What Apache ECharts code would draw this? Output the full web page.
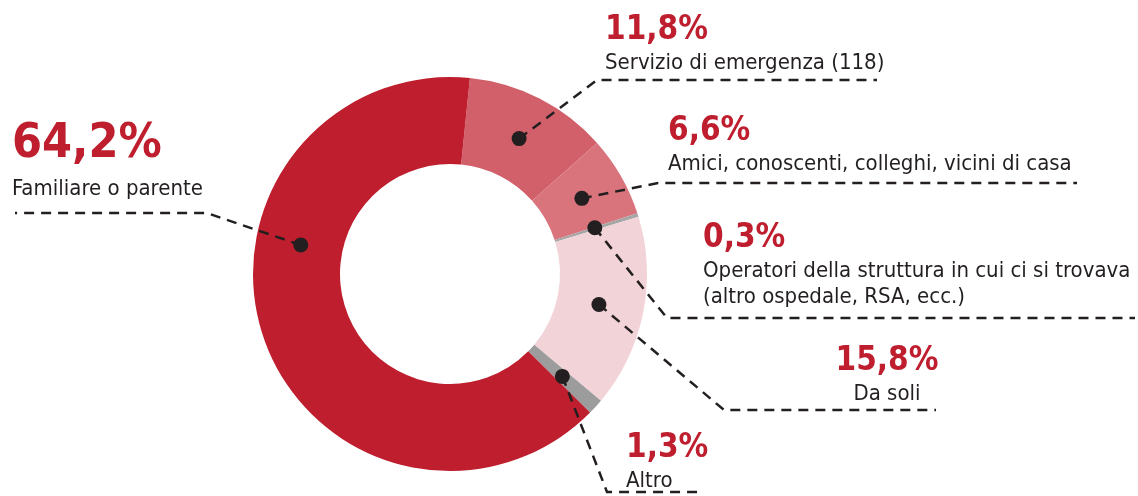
<!DOCTYPE html>
<html>
<head>
<meta charset="utf-8">
<script src="https://cdn.jsdelivr.net/npm/echarts@6/dist/echarts.min.js"></script>
<style>html,body{margin:0;padding:0;background:#fff}#c{width:1138px;height:496px}</style>
</head>
<body>
<div id="c"></div>
<script>
// ---- data ----
const categories = [
  'Servizio di emergenza (118)',
  'Amici, conoscenti, colleghi, vicini di casa',
  'Operatori della struttura in cui ci si trovava\n(altro ospedale, RSA, ecc.)',
  'Da soli',
  'Altro',
  'Familiare o parente'
];
const values = [11.8, 6.6, 0.3, 15.8, 1.3, 64.2];
const colors = ['#d2606b', '#d9747d', '#a6a6a6', '#f2d3d7', '#9c9c9c', '#be1e2d'];

// ---- layout ----
const CX = 450, CY = 274, R0 = 110, R1 = 197;
const START_OFFSET = 5.8; // degrees clockwise from 12 o'clock
const DOT_R = 152;
const dotFrac = [0.5, 0.5, 0.25, 0.5, 0.5, 0.633];
const labelCfg = [
  { x: 605, y: 10, align: 'left', elbow: [597, 80], end: [877, 80] },
  { x: 668, y: 111, align: 'left', elbow: [658, 183], end: [1077, 183] },
  { x: 703, y: 218, align: 'left', elbow: [667, 318], end: [1135, 318] },
  { x: 887, y: 341, align: 'center', elbow: [724, 410], end: [936, 410] },
  { x: 626, y: 428, align: 'left', elbow: [607, 492], end: [703, 492] },
  { x: 12, y: 114, align: 'left', elbow: [207, 213], end: [15, 213] }
];

const total = values.reduce((a, b) => a + b, 0);
const dots = [];
let cum = 0;
values.forEach((v, i) => {
  const a = (START_OFFSET + (cum + v * dotFrac[i]) / total * 360) * Math.PI / 180;
  dots.push([CX + DOT_R * Math.sin(a), CY - DOT_R * Math.cos(a)]);
  cum += v;
});

const fmt = v => v.toFixed(1).replace('.', ',') + '%';
const NAME_FONT = '"DejaVu Sans Condensed", "DejaVu Sans", sans-serif';
const INK = '#231f20';

const leaderLines = dots.map((d, i) => ({
  type: 'polyline', z: 100, silent: true,
  shape: { points: [d, labelCfg[i].elbow, labelCfg[i].end] },
  style: { stroke: INK, lineWidth: 2.5, lineDash: [10, 7], fill: null }
}));
const dotMarks = dots.map(d => ({
  type: 'circle', z: 101, silent: true,
  shape: { cx: d[0], cy: d[1], r: 7.5 },
  style: { fill: INK }
}));

const chart = echarts.init(document.getElementById('c'), null, { renderer: 'canvas' });
chart.setOption({
  animation: false,
  series: [{
    type: 'pie',
    center: [CX, CY],
    radius: [R0, R1],
    startAngle: 90 - START_OFFSET,
    clockwise: true,
    avoidLabelOverlap: false,
    silent: true,
    itemStyle: { borderWidth: 0 },
    data: values.map((v, i) => ({
      value: v,
      name: categories[i],
      itemStyle: { color: colors[i] },
      label: {
        formatter: (i === 5 ? '{pb|' : '{p|') + fmt(v) + '}\n' +
          categories[i].split('\n').map(s => '{n|' + s + '}').join('\n')
      }
    })),
    label: {
      show: true,
      position: 'outside',
      rich: {
        p: { fontFamily: NAME_FONT, fontWeight: 'bold', fontSize: 33, lineHeight: 40, color: '#be1e2d' },
        pb: { fontFamily: NAME_FONT, fontWeight: 'bold', fontSize: 48, lineHeight: 62, color: '#be1e2d' },
        n: { fontFamily: NAME_FONT, fontSize: 22, lineHeight: 26, color: INK }
      }
    },
    labelLine: { show: false },
    labelLayout: function (params) {
      const L = labelCfg[params.dataIndex];
      return { x: L.x, y: L.y, align: L.align, verticalAlign: 'top' };
    }
  }],
  graphic: leaderLines.concat(dotMarks)
});
</script>
</body>
</html>
